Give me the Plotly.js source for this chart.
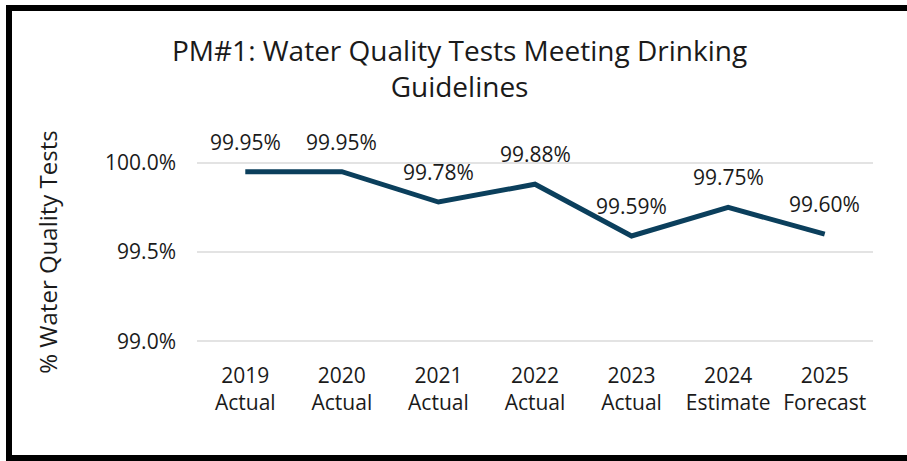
<!DOCTYPE html>
<html>
<head>
<meta charset="utf-8">
<script src="https://cdn.plot.ly/plotly-3.0.1.min.js"></script>
<style>
html,body{margin:0;padding:0;background:#fff;overflow:hidden;}
#wrap{position:relative;width:907px;height:461px;overflow:hidden;}
#chart{position:absolute;left:0;top:0;width:907px;height:461px;}
#frame{position:absolute;left:6px;top:5px;width:920px;height:444px;border:6px solid #000;pointer-events:none;}
</style>
</head>
<body>
<div id="wrap"><div id="chart"></div><div id="frame"></div></div>
<script>
const years = ["2019", "2020", "2021", "2022", "2023", "2024", "2025"];
const kinds = ["Actual", "Actual", "Actual", "Actual", "Actual", "Estimate", "Forecast"];
const values = [99.95, 99.95, 99.78, 99.88, 99.59, 99.75, 99.60];
const valueLabels = ["99.95%", "99.95%", "99.78%", "99.88%", "99.59%", "99.75%", "99.60%"];
const yTicks = [99.0, 99.5, 100.0];
const yTickText = ["99.0%", "99.5%", "100.0%"];
const titleText = "PM#1: Water Quality Tests Meeting Drinking<br>Guidelines";

const cats = years.map((y, i) => y + "<br>" + kinds[i]);
const FONT = "Open Sans, Lato, sans-serif";
const INK = "#1a1a1a";

const trace = {
  x: cats, y: values, type: "scatter", mode: "lines",
  line: {color: "#0b3f5c", width: 5},
  hoverinfo: "skip"
};

const annotations = cats.map((c, i) => ({
  x: c, y: values[i], xref: "x", yref: "y",
  text: valueLabels[i], showarrow: false, yshift: 30,
  font: {family: FONT, size: 21, color: INK}
}));
annotations.push({
  text: titleText, xref: "paper", yref: "paper", x: 0.389, y: 1.51,
  xanchor: "center", yanchor: "middle", showarrow: false,
  font: {family: FONT, size: 28, color: INK}
});

const layout = {
  width: 907, height: 461,
  margin: {l: 197, r: 34, t: 161, b: 118},
  paper_bgcolor: "#fff", plot_bgcolor: "#fff",
  showlegend: false,
  xaxis: {
    type: "category", range: [-0.5, 6.5],
    showgrid: false, zeroline: false, showline: false, ticks: "",
    tickfont: {family: FONT, size: 21, color: INK},
    ticklabelstandoff: 18
  },
  yaxis: {
    range: [98.99, 100.01], tickvals: yTicks, ticktext: yTickText,
    showgrid: true, gridcolor: "#e3e3e3", gridwidth: 2,
    zeroline: false, showline: false, ticks: "",
    tickfont: {family: FONT, size: 21, color: INK},
    ticklabelstandoff: 20,
    title: {text: "% Water Quality Tests", standoff: 40,
            font: {family: FONT, size: 24, color: INK}}
  },
  annotations: annotations
};

Plotly.newPlot("chart", [trace], layout, {staticPlot: true, displayModeBar: false});
</script>
</body>
</html>
